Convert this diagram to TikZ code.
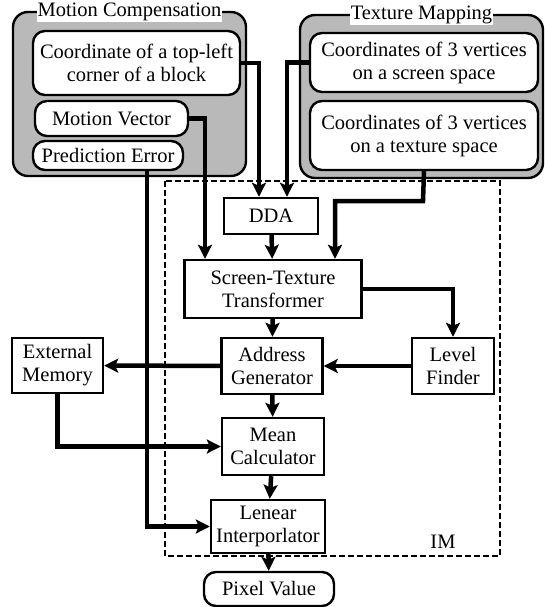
\documentclass[tikz,border=0pt]{standalone}
\usepackage{fontspec}
\setmainfont{Liberation Serif}
\usetikzlibrary{positioning,calc,arrows.meta}

\tikzset{
    block/.style={draw, line width=2.4pt, align=center, inner sep=1pt,
        font=\fontsize{20.5}{23}\selectfont},
    input/.style={block, rounded corners=12pt, fill=white},
    group/.style={draw, line width=2.4pt, rounded corners=15pt, fill=gray!55},
    grouplabel/.style={fill=white, inner sep=1pt, font=\fontsize{20.5}{23}\selectfont},
    flow/.style={line width=4.5pt, -{Stealth[length=14pt,width=14pt,inset=3pt]}}
}

\begin{document}
\begin{tikzpicture}[x=1pt, y=-1pt]
    \useasboundingbox (0,0) rectangle (545,607);

    % Input groups
    \draw[group] (13,12) rectangle (246,176);
    \node[grouplabel] (mclabel) at (129.5,12) {Motion Compensation};
    \draw[group] (300,15) rectangle (543,178);
    \node[grouplabel] (tmlabel) at (421.5,15) {Texture Mapping};

    \node[input, minimum width=207pt, minimum height=64pt] (corner) at (136.5,63)
        {Coordinate of a top-left\\corner of a block};
    \node[input, minimum width=153pt, minimum height=35pt] (mv) at (111.5,118.5) {Motion Vector};
    \node[input, minimum width=150pt, minimum height=29pt] (pe) at (108,155.5) {Prediction Error};

    \node[input, minimum width=228pt, minimum height=59pt] (screen) at (424,62.5)
        {Coordinates of 3 vertices\\on a screen space};
    \node[input, minimum width=228pt, minimum height=69pt] (texsp) at (424,135.5)
        {Coordinates of 3 vertices\\on a texture space};

    % IM
    \draw[line width=1.3pt, dash pattern=on 6pt off 3pt] (165,181) rectangle (500,556);
    \node[font=\fontsize{20.5}{23}\selectfont] (im) at (443,542) {IM};

    \node[block, minimum width=94pt, minimum height=36pt] (dda) at (271,216) {DDA};
    \node[block, minimum width=177pt, minimum height=58pt] (stt) at (273,289)
        {Screen-Texture\\Transformer};
    \node[block, minimum width=101pt, minimum height=56pt] (ag) at (272,366)
        {Address\\Generator};
    \node[block, minimum width=82pt, minimum height=56pt] (lf) at (453,366)
        {Level\\Finder};
    \node[block, minimum width=91pt, minimum height=55pt] (em) at (57.5,365.5)
        {External\\Memory};
    \node[block, minimum width=102pt, minimum height=57pt] (mc) at (273,446.5)
        {Mean\\Calculator};
    \node[block, minimum width=114pt, minimum height=53pt] (li) at (268,526.5)
        {Lenear\\Interporlator};
    \node[input, minimum width=130pt, minimum height=34pt] (pv) at (269,589)
        {Pixel Value};

    % Connections
    \coordinate (tbend) at (423,201);
    \draw[flow] (corner.east) -| ($(dda.north)+(-12,0)$);
    \draw[flow] (screen.west) -| ($(dda.north)+(16,0)$);
    \draw[flow] (mv.east) -| ($(stt.north)+(-68,0)$);
    \draw[flow] (texsp.south) -- (tbend) -| ($(stt.north)+(62,0)$);
    \draw[flow] (dda) -- (stt);
    \draw[flow] ($(pe.south)+(39,0)$) |- (li.west);
    \draw[flow] (stt.east) -| (lf.north);
    \draw[flow] (stt) -- (ag);
    \draw[flow] (lf) -- (ag);
    \draw[flow] (ag) -- (em);
    \draw[flow] (em.south) |- (mc.west);
    \draw[flow] (ag) -- (mc);
    \draw[flow] (mc) -- (li);
    \draw[flow] (li) -- (pv);
\end{tikzpicture}
\end{document}
